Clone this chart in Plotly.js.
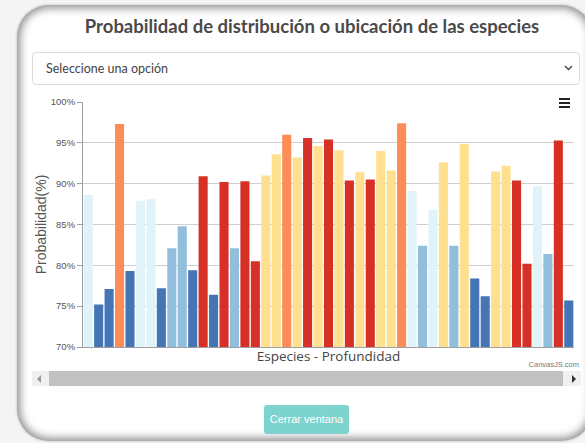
<!DOCTYPE html>
<html>
<head>
<meta charset="utf-8">
<script src="https://cdn.plot.ly/plotly-3.0.1.min.js"></script>
<style>
  html, body { margin:0; padding:0; width:585px; height:443px; overflow:hidden; background:#f4f4f4; font-family: Lato, "Open Sans", sans-serif; }
  .modal { position:absolute; left:17px; top:5px; width:576px; height:436px; border-radius:32px; background:#fff;
           box-shadow: inset 0 0 8px 3px rgba(0,0,0,0.45), 0 0 3px rgba(0,0,0,0.25); }
  .title { position:absolute; left:0; top:15px; width:624px; text-align:center; font-family: Lato, sans-serif; font-weight:700; font-size:18.5px; color:#4a4a4a; }
  .select { position:absolute; left:32px; top:52px; width:546px; height:31px; border:1px solid #dcdcdc; border-radius:4px; background:#fff; }
  .select span { position:absolute; left:13px; top:8px; font-size:12.5px; color:#444; font-family: Lato, sans-serif; }
  .select svg { position:absolute; right:6px; top:12px; }
  #chart { position:absolute; left:0; top:0; width:585px; height:443px; }
  .burger { position:absolute; left:559px; top:98px; width:11px; }
  .burger div { height:2px; background:#222; margin-bottom:2px; }
  .credit { position:absolute; right:6px; top:360px; font-size:7.5px; color:#777; font-family: "Liberation Sans", sans-serif; }
  .track { position:absolute; left:32px; top:371px; width:549px; height:15px; background:#f0f0f0; }
  .thumb { position:absolute; left:17px; top:0; width:514px; height:15px; background:#c1c1c1; }
  .btn { position:absolute; left:264px; top:405px; width:85px; height:29px; border-radius:3px; background:#7dd3cd; color:#fff; font-size:11px; font-family: "Liberation Sans", sans-serif; text-align:center; line-height:29px; }
</style>
</head>
<body>
<div class="modal"></div>
<div class="title">Probabilidad de distribución o ubicación de las especies</div>
<div class="select"><span>Seleccione una opción</span>
  <svg width="9" height="6" viewBox="0 0 9 6"><path d="M1 1 L4.5 4.5 L8 1" stroke="#444" stroke-width="1.4" fill="none"/></svg>
</div>
<div id="chart"></div>
<div class="burger"><div></div><div></div><div></div></div>
<div class="credit">CanvasJS.com</div>
<div class="track">
  <svg style="position:absolute;left:4px;top:4px" width="6" height="8"><path d="M5 0 L1 4 L5 8 Z" fill="#999"/></svg>
  <div class="thumb"></div>
  <svg style="position:absolute;left:539px;top:4px" width="6" height="8"><path d="M1 0 L5 4 L1 8 Z" fill="#333"/></svg>
</div>
<div class="btn">Cerrar ventana</div>
<script>
// Categories (species - depth), tick labels are hidden in the original
const categories = ["1","2","3","4","5","6","7","8","9","10","11","12","13","14","15","16","17","18","19","20",
  "21","22","23","24","25","26","27","28","29","30","31","32","33","34","35","36","37","38","39","40",
  "41","42","43","44","45","46","47"];
// Probability (%) per bar
const probabilities = [88.6,75.2,77.1,97.3,79.3,87.9,88.1,77.2,82.1,84.8,79.4,90.9,76.4,90.2,82.1,90.3,80.5,
  91.0,93.6,96.0,93.2,95.6,94.6,95.4,94.1,90.4,91.4,90.5,94.0,91.6,97.4,89.1,82.4,86.8,92.6,82.4,94.9,
  78.4,76.2,91.5,92.2,90.4,80.2,89.7,81.4,95.3,75.7];
// Colour group per bar
const colorGroups = ["lb","db","db","or","db","lb","lb","db","mb","mb","db","rd","db","rd","mb","rd","rd",
  "ye","ye","or","ye","rd","ye","rd","ye","rd","ye","rd","ye","ye","or","lb","mb","lb","ye","mb","ye",
  "db","db","ye","ye","rd","rd","lb","mb","rd","db"];
const palette = {db:"#4575b4", mb:"#91bfdb", lb:"#e0f3f8", ye:"#fee090", or:"#fc8d59", rd:"#d73027"};
const yTicks = [70,75,80,85,90,95,100];

const trace = {
  type: "bar",
  x: categories,
  y: probabilities,
  base: 0,
  marker: { color: colorGroups.map(g => palette[g]), line: { width: 0 } },
  hoverinfo: "x+y"
};

const layout = {
  width: 585, height: 443,
  margin: { l: 83, r: 11, t: 102, b: 96, pad: 0 },
  paper_bgcolor: "rgba(0,0,0,0)",
  plot_bgcolor: "rgba(0,0,0,0)",
  bargap: 0.13,
  showlegend: false,
  xaxis: {
    type: "category",
    showticklabels: false,
    ticks: "",
    showgrid: false,
    showline: true, linecolor: "#a0a0a0", linewidth: 1,
    title: { text: "Especies - Profundidad", standoff: 4,
             font: { family: "Open Sans, sans-serif", size: 13.5, color: "#444" } }
  },
  yaxis: {
    range: [70, 100],
    tickvals: yTicks,
    ticktext: yTicks.map(v => v + "%"),
    ticks: "outside", ticklen: 5, tickcolor: "#a0a0a0",
    showline: true, linecolor: "#a0a0a0", linewidth: 1,
    gridcolor: "#cfcfcf", gridwidth: 1,
    zeroline: false,
    tickfont: { family: "Liberation Sans, sans-serif", size: 9.5, color: "#555" },
    title: { text: "Probabilidad(%)", standoff: 0,
             font: { family: "Liberation Sans, sans-serif", size: 14, color: "#555" } }
  }
};

Plotly.newPlot("chart", [trace], layout, { displayModeBar: false, staticPlot: false });
</script>
</body>
</html>
